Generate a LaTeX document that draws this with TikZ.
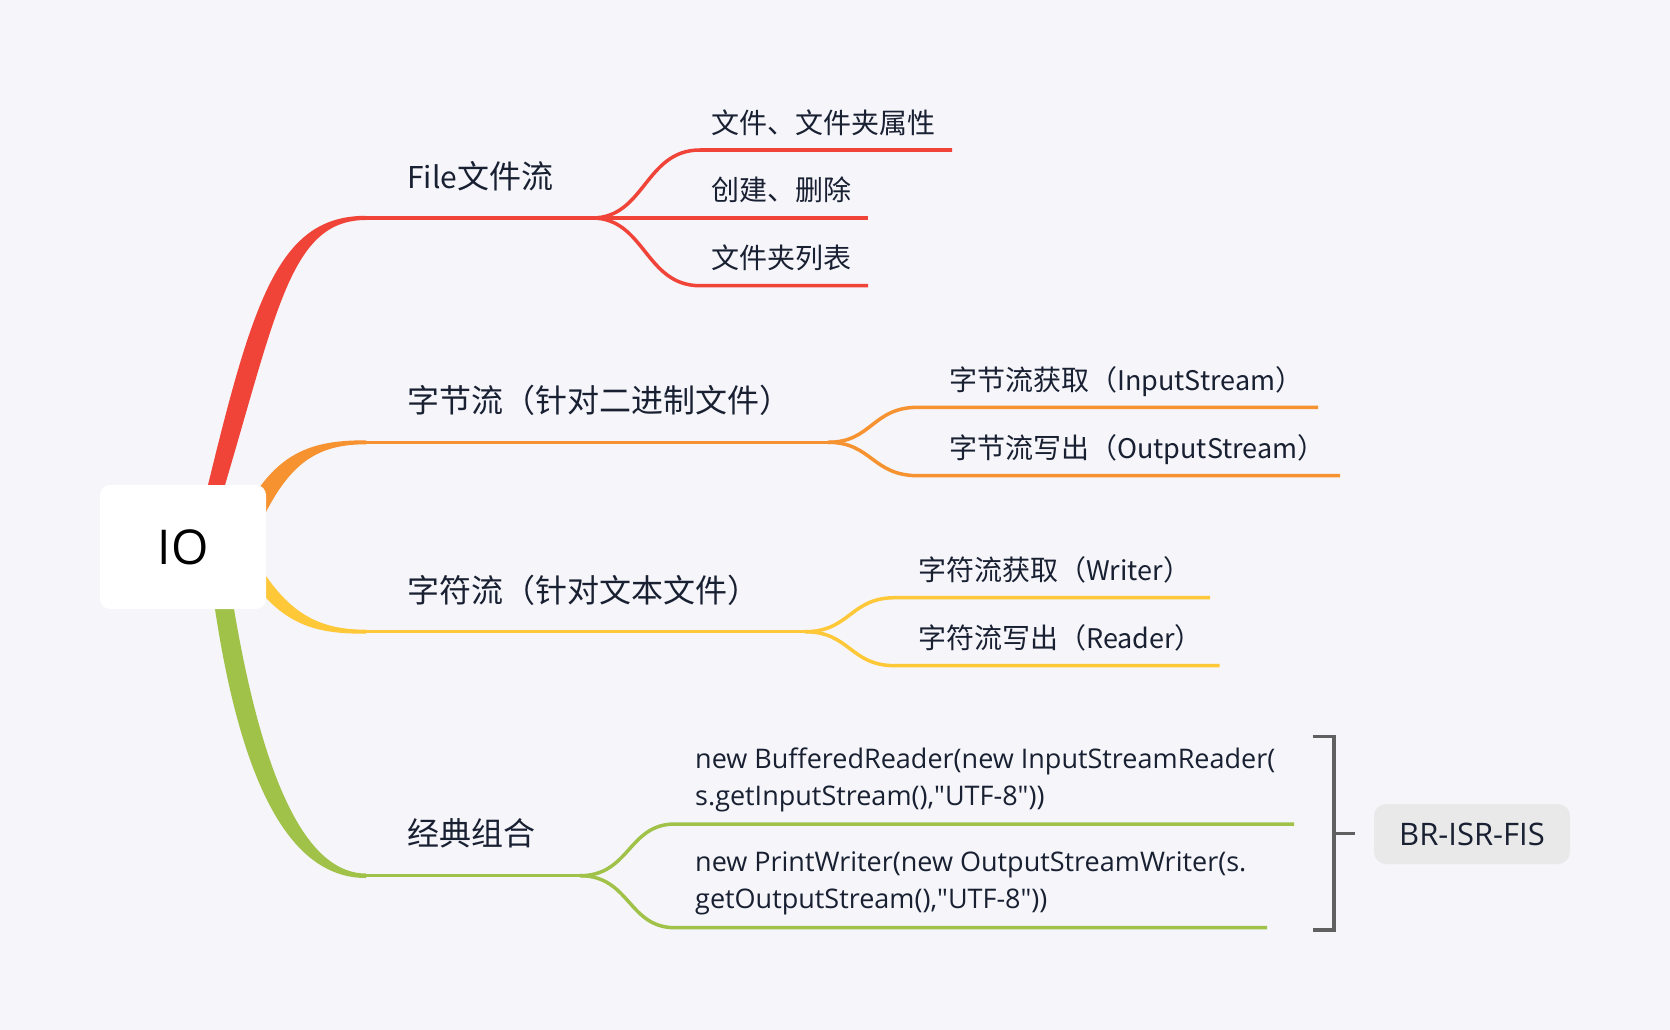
\documentclass[tikz,border=0pt]{standalone}
\usepackage{fontspec}
\setmainfont{Open Sans}[Ligatures=TeXOff]
\newfontfamily\cjk{Noto Sans CJK SC}
\definecolor{bg}{RGB}{245,245,250}
\definecolor{cred}{RGB}{240,68,56}
\definecolor{corange}{RGB}{246,146,48}
\definecolor{cyellow}{RGB}{254,200,56}
\definecolor{cgreen}{RGB}{160,194,72}
\definecolor{ink}{RGB}{24,32,50}
\definecolor{brk}{RGB}{96,96,96}
\definecolor{tagbg}{RGB}{233,233,233}
\newcommand\latM[1]{{\fontsize{30}{36}\selectfont #1}}
\newcommand\latS[1]{{\fontsize{27}{36.3}\selectfont #1}}
\tikzset{
  maintext/.style={anchor=west, inner sep=0pt, text=ink, font=\cjk\fontsize{32}{36}\selectfont},
  subtext/.style={anchor=west, inner sep=0pt, text=ink, font=\cjk\fontsize{28}{36.3}\selectfont},
  codetext/.style={anchor=west, inner sep=0pt, text=ink, font=\fontsize{27}{36.3}\selectfont, align=left},
  branch/.style={line width=3.5pt},
}
\begin{document}
\begin{tikzpicture}[x=1pt,y=-1pt]
\useasboundingbox (0,0) rectangle (1670,1030);
\fill[bg] (0,0) rectangle (1670,1030);

% trunks (tapered)
\fill[cred] (208,485) .. controls (254,296) and (280,215.8) .. (366,215.8)
  -- (366,220) .. controls (292,220) and (278,306) .. (225,485) -- cycle;
\fill[corange] (255,494) .. controls (285,448) and (320,440.3) .. (366,440.3)
  -- (366,444.3) .. controls (318,444.3) and (290,462) .. (262,520) -- cycle;
\fill[cyellow] (250,578) .. controls (285,628) and (320,633.7) .. (366,633.7)
  -- (366,629.7) .. controls (322,629.7) and (292,616) .. (262,570) -- cycle;
\fill[cgreen] (215,609) .. controls (245,808) and (300,878) .. (366,878)
  -- (366,873.5) .. controls (312,873.5) and (266,798) .. (234,609) -- cycle;

% central node
\node[fill=white, rounded corners=10pt, minimum width=166pt, minimum height=124pt, inner sep=0pt,
      font=\fontsize{48}{48}\selectfont, text=black] (io) at (183,547) {IO};

% coordinates
\coordinate (r0) at (366,218);   \coordinate (rf) at (592,218);
\coordinate (r1) at (700,150);   \coordinate (r1e) at (952,150);
\coordinate (r2e) at (868,218);
\coordinate (r3) at (700,285.7); \coordinate (r3e) at (868,285.7);

\coordinate (o0) at (366,442.3); \coordinate (of) at (828,442.3);
\coordinate (o1) at (918,407.3); \coordinate (o1e) at (1318,407.3);
\coordinate (o2) at (918,475.7); \coordinate (o2e) at (1340,475.7);

\coordinate (y0) at (366,631.7); \coordinate (yf) at (805,631.7);
\coordinate (y1) at (895,597.7); \coordinate (y1e) at (1210,597.7);
\coordinate (y2) at (895,665.7); \coordinate (y2e) at (1219.5,665.7);

\coordinate (g0) at (366,875.7); \coordinate (gf) at (580,875.7);
\coordinate (g1) at (675,824);   \coordinate (g1e) at (1294,824);
\coordinate (g2) at (675,927.7); \coordinate (g2e) at (1267,927.7);

% red branches
\draw[branch, cred] (r0) -- (r2e);
\draw[branch, cred] (rf) .. controls (645,218) and (645,150) .. (r1) -- (r1e);
\draw[branch, cred] (rf) .. controls (645,218) and (645,285.7) .. (r3) -- (r3e);
% orange
\draw[branch, corange] (o0) -- (of);
\draw[branch, corange] (of) .. controls (872,442.3) and (872,407.3) .. (o1) -- (o1e);
\draw[branch, corange] (of) .. controls (872,442.3) and (872,475.7) .. (o2) -- (o2e);
% yellow
\draw[branch, cyellow] (y0) -- (yf);
\draw[branch, cyellow] (yf) .. controls (850,631.7) and (850,597.7) .. (y1) -- (y1e);
\draw[branch, cyellow] (yf) .. controls (850,631.7) and (850,665.7) .. (y2) -- (y2e);
% green
\draw[branch, cgreen] (g0) -- (gf);
\draw[branch, cgreen] (gf) .. controls (630,875.7) and (628,824) .. (g1) -- (g1e);
\draw[branch, cgreen] (gf) .. controls (630,875.7) and (628,927.7) .. (g2) -- (g2e);

% main texts
\node[maintext] (file) at (407,176.7) {\latM{File}文件流};
\node[maintext] (byte) at (407,400) {字节流（针对二进制文件）};
\node[maintext] (char) at (407,590) {字符流（针对文本文件）};
\node[maintext] (combo) at (407,833) {经典组合};

% sub texts
\node[subtext] (attr) at (711,123) {文件、文件夹属性};
\node[subtext] (create) at (711,190) {创建、删除};
\node[subtext] (list) at (711,258) {文件夹列表};
\node[subtext] (bin) at (949,381.7) {字节流获取（\latS{InputStream}）};
\node[subtext] (bout) at (949,450) {字节流写出（\latS{OutputStream}）};
\node[subtext] (cin) at (918,570) {字符流获取（\latS{Writer}）};
\node[subtext] (cout) at (918,638) {字符流写出（\latS{Reader}）};
\node[codetext] (br) at (695,779.9) {new BufferedReader(new InputStreamReader(\\s.getInputStream(),"UTF-8"))};
\node[codetext] (pw) at (695,883.4) {new PrintWriter(new OutputStreamWriter(s.\\getOutputStream(),"UTF-8"))};

% bracket and tag
\node[fill=tagbg, rounded corners=12pt, minimum width=196pt, minimum height=60pt, inner sep=0pt,
      text=ink, font=\fontsize{31}{31}\selectfont] (tag) at (1472,834) {BR-ISR-FIS};
\coordinate (bt) at (1312.6,736.7); \coordinate (btr) at (1334,736.7);
\coordinate (bb) at (1312.6,930);   \coordinate (bbr) at (1334,930);
\coordinate (bm) at (1334,833.7);   \coordinate (bme) at (1355,833.7);
\draw[brk, line width=3.5pt] (bt) -- (btr) -- (bbr) -- (bb);
\draw[brk, line width=3.5pt] (bm) -- (bme);
\end{tikzpicture}
\end{document}
